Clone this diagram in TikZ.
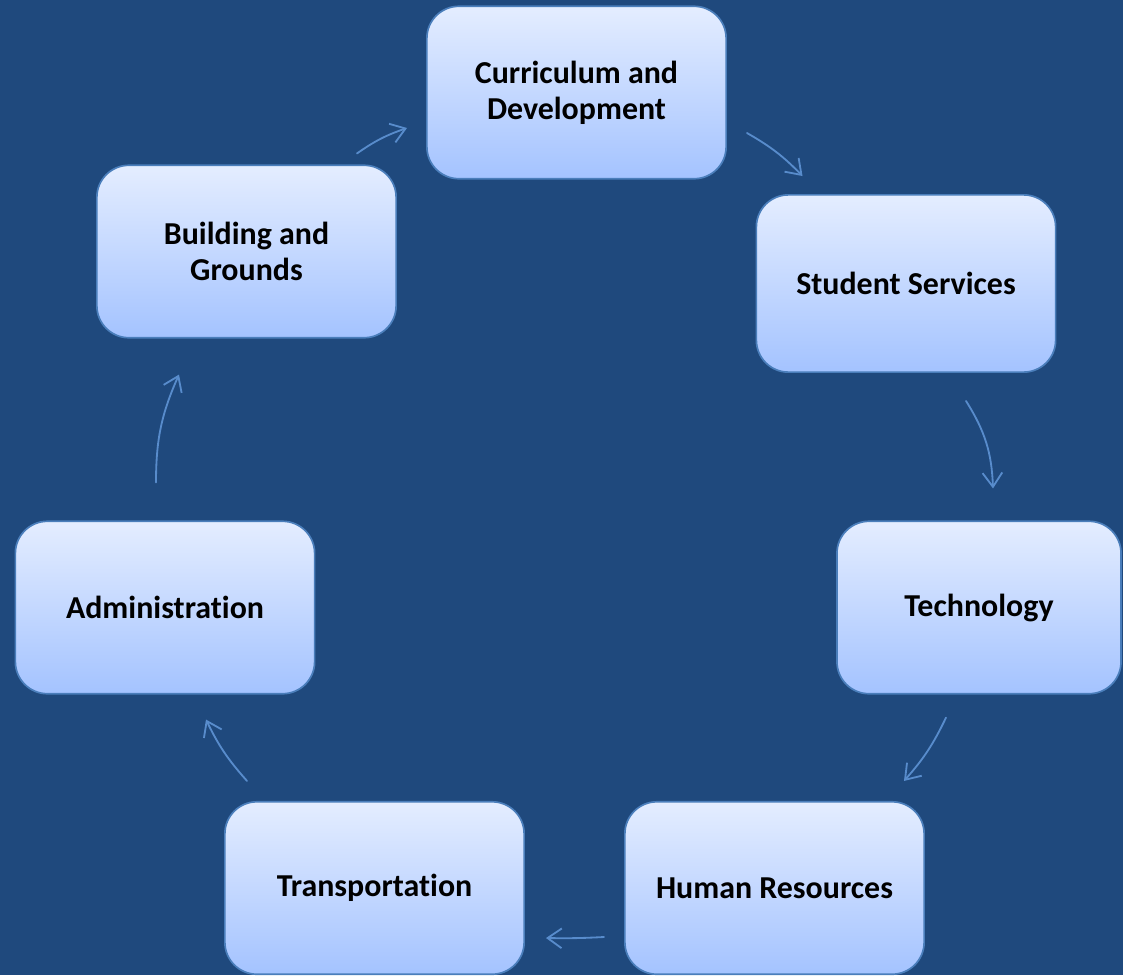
\documentclass[tikz,border=0pt]{standalone}
\usepackage{fontspec}
\setmainfont{Carlito}[Ligatures=NoCommon]
\usepackage{tikz}
\usetikzlibrary{positioning}
\usetikzlibrary{calc}
\usetikzlibrary{arrows.meta}
\definecolor{pagebg}{RGB}{31,73,125}
\definecolor{boxtop}{RGB}{228,237,255}
\definecolor{boxbottom}{RGB}{164,195,255}
\definecolor{boxedge}{RGB}{74,126,187}
\definecolor{flowblue}{RGB}{88,140,204}

\begin{document}
\begin{tikzpicture}[x=0.025cm, y=-0.025cm,
    unit/.style={draw=boxedge, line width=1.2pt, rounded corners=0.8cm, top color=boxtop, bottom color=boxbottom,
        minimum width=7.48cm, minimum height=4.31cm, inner sep=0pt, align=center, text=black,
        font=\fontsize{22.7}{25.5}\selectfont\bfseries},
    flow/.style={-{Straight Barb[length=10pt, width=14pt]}, draw=flowblue, line width=1.3pt, line cap=round}]

    \fill[pagebg] (0,0) rectangle (1123,975);
    \useasboundingbox (0,0) rectangle (1123,975);

    \node[unit] (cd) at (576.5,92.5) {Curriculum and\\Development};
    \node[unit, minimum height=4.43cm] (ss) at (906,283.5) {Student Services};
    \node[unit, minimum width=7.1cm] (tech) at (979,607.5) {Technology};
    \node[unit] (hr) at (774.5,888) {Human Resources};
    \node[unit] (tr) at (374.5,888) {Transportation};
    \node[unit] (adm) at (165,607.5) {Administration};
    \node[unit] (bg) at (246.5,251.5) {Building and\\Grounds};

    \draw[flow] ($(bg.north east)+(-40,-11)$) to[bend left=8] ($(cd.west)+(-19,35.5)$);
    \draw[flow] ($(cd.east)+(20,40.5)$) to[bend left=8] ($(ss.north west)+(47,-18)$);
    \draw[flow] ($(ss.south)+(60,28)$) to[bend left=15] ($(tech.north)+(14,-32)$);
    \draw[flow] ($(tech.south)+(-33,23)$) to[bend left=8] ($(hr.north east)+(-21,-20)$);
    \draw[flow] ($(hr.west)+(-20,49)$) to[bend left=2] ($(tr.east)+(21,50)$);
    \draw[flow] ($(tr.north west)+(23,-20)$) to[bend left=8] ($(adm.south)+(41,25)$);
    \draw[flow] ($(adm.north)+(-9,-38)$) to[bend left=12] ($(bg.south)+(-67.5,36)$);
\end{tikzpicture}
\end{document}
